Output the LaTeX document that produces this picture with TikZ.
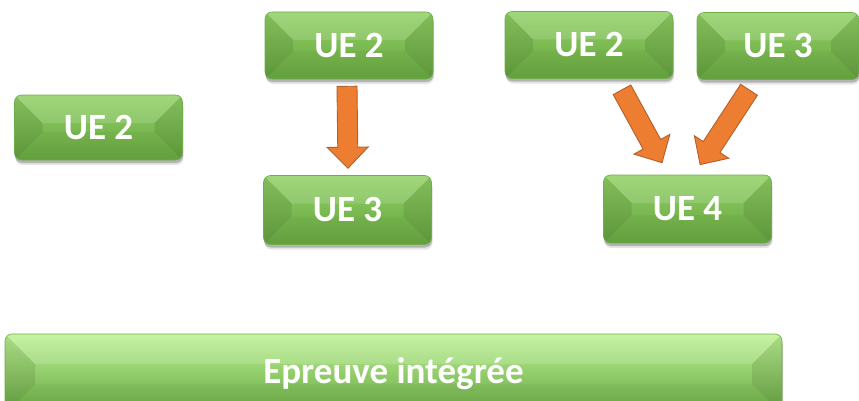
\documentclass[tikz,border=0pt]{standalone}
\usepackage{fontspec}
\setmainfont{Carlito}
\usetikzlibrary{calc,shadows}

\definecolor{gtop}{HTML}{92D165}
\definecolor{gbot}{HTML}{66A540}
\definecolor{gedge}{HTML}{6FAE4A}
\definecolor{gtopwide}{HTML}{BDF394}
\definecolor{gmidwide}{HTML}{7DBC54}
\definecolor{arrowfill}{HTML}{ED7D31}
\definecolor{arrowline}{HTML}{B2602A}

% orange block arrow from one named coordinate to another
\newcommand{\blockarrow}[2]{%
  \pgfpointdiff{\pgfpointanchor{#1}{center}}{\pgfpointanchor{#2}{center}}%
  \pgfgetlastxy{\bax}{\bay}%
  \pgfmathsetmacro\bang{atan2(\bay,\bax)}%
  \pgfmathsetmacro\blen{veclen(\bax,\bay)}%
  \begin{scope}[shift={(#1)}, rotate=\bang]
    \draw[orangearrow]
      (0pt,-10pt) -- ({\blen pt-21pt},-10pt) -- ({\blen pt-21pt},-20.5pt)
      -- (\blen pt,0pt) -- ({\blen pt-21pt},20.5pt) -- ({\blen pt-21pt},10pt)
      -- (0pt,10pt) -- cycle;
  \end{scope}}

\tikzset{
  bevel depth/.store in=\bevdepth, bevel depth=28,
  orangearrow/.style={fill=arrowfill, draw=arrowline, line width=0.9pt, line join=miter},
  uebox/.style={rounded corners=7pt, minimum width=168pt, minimum height=67pt,
    inner sep=0pt, draw=gedge, line width=0.6pt,
    top color=gtop, bottom color=gbot, text=white,
    font=\fontsize{37}{42}\selectfont\bfseries,
    drop shadow={shadow xshift=0.5pt, shadow yshift=-3pt, opacity=0.22, fill=black},
    drop shadow={shadow xshift=1pt, shadow yshift=-5pt, opacity=0.10, fill=black},
    path picture={
      \begin{scope}[sharp corners]
        \coordinate (nw) at (path picture bounding box.north west);
        \coordinate (ne) at (path picture bounding box.north east);
        \coordinate (sw) at (path picture bounding box.south west);
        \coordinate (se) at (path picture bounding box.south east);
        \coordinate (inw) at ($(nw)+(\bevdepth pt,-\bevdepth pt)$);
        \coordinate (ine) at ($(ne)+(-\bevdepth pt,-\bevdepth pt)$);
        \coordinate (isw) at ($(sw)+(\bevdepth pt,\bevdepth pt)$);
        \coordinate (ise) at ($(se)+(-\bevdepth pt,\bevdepth pt)$);
        % lit top face, shaded sides, soft bottom face
        \fill[white, opacity=0.14] (nw) -- (ne) -- (ine) -- (inw) -- cycle;
        \fill[black, opacity=0.09] (nw) -- (inw) -- (isw) -- (sw) -- cycle;
        \fill[black, opacity=0.09] (ne) -- (ine) -- (ise) -- (se) -- cycle;
        \fill[black, opacity=0.03] (sw) -- (isw) -- (ise) -- (se) -- cycle;
      \end{scope}
    }},
  widebox/.style={uebox, minimum width=777pt, minimum height=80pt,
    top color=gtopwide, middle color=gmidwide, bottom color=gbot, bevel depth=30}
}

\begin{document}
\begin{tikzpicture}[x=1pt, y=1pt]
  \useasboundingbox (0,0) rectangle (859,400);

  % course units
  \node[uebox, minimum height=65pt] (b1) at (98.5,272.5) {UE 2};
  \node[uebox] (b2) at (349,354.5) {UE 2};
  \node[uebox, minimum height=69pt] (b3) at (347.5,190) {UE 3};
  \node[uebox] (b4) at (589,355) {UE 2};
  \node[uebox, minimum width=162pt] (b5) at (778,354) {UE 3};
  \node[uebox, minimum height=68pt] (b6) at (687.5,191) {UE 4};

  % integrated exam
  \node[widebox] (exam) at (393.5,26) {Epreuve intégrée};

  % arrow end points
  \coordinate (a1s) at ($(b2.south)+(-2,-7)$);
  \coordinate (a1e) at ($(b3.north)+(0.5,7)$);
  \coordinate (a2s) at ($(b4.south)+(33,-11)$);
  \coordinate (a2e) at ($(b6.north)+(-25.5,12)$);
  \coordinate (a3s) at ($(b5.south)+(-29,-10)$);
  \coordinate (a3e) at ($(b6.north)+(12.5,10)$);

  \blockarrow{a1s}{a1e}
  \blockarrow{a2s}{a2e}
  \blockarrow{a3s}{a3e}
\end{tikzpicture}
\end{document}
